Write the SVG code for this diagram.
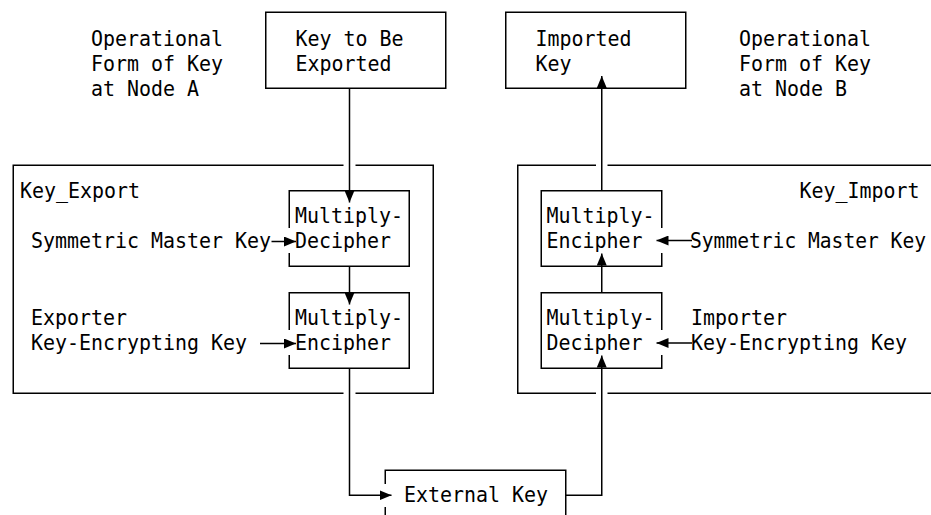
<svg xmlns="http://www.w3.org/2000/svg" width="931" height="515" viewBox="0 0 931 515">
<style>
  text { font-family: "DejaVu Sans Mono", "Liberation Mono", monospace; font-size: 22px; fill: #000; }
  .edge { fill: none; stroke: #000; stroke-width: 1.5; }
  .conn { fill: none; stroke: #000; stroke-width: 1.5; }
</style>
<defs>
  <marker id="ah" markerUnits="userSpaceOnUse" markerWidth="12" markerHeight="10" refX="12" refY="5" orient="auto">
    <path d="M0,0 L12,5 L0,10 Z" fill="#000"/>
  </marker>
</defs>
<rect width="931" height="515" fill="#fff"/>

<g id="label-node-a">
  <text x="91" y="46" textLength="132" lengthAdjust="spacingAndGlyphs">Operational</text>
  <text x="91" y="71" textLength="132" lengthAdjust="spacingAndGlyphs">Form of Key</text>
  <text x="91" y="96" textLength="108" lengthAdjust="spacingAndGlyphs">at Node A</text>
</g>

<g id="key-to-be-exported">
  <rect class="edge" x="265.75" y="12.25" width="180" height="76"/>
  <text x="295.5" y="46" textLength="108" lengthAdjust="spacingAndGlyphs">Key to Be</text>
  <text x="295.5" y="71" textLength="96" lengthAdjust="spacingAndGlyphs">Exported</text>
</g>

<g id="imported-key">
  <rect class="edge" x="505.75" y="12.25" width="180" height="76"/>
  <text x="535.5" y="46" textLength="96" lengthAdjust="spacingAndGlyphs">Imported</text>
  <text x="535.5" y="71" textLength="36" lengthAdjust="spacingAndGlyphs">Key</text>
</g>

<g id="label-node-b">
  <text x="739" y="46" textLength="132" lengthAdjust="spacingAndGlyphs">Operational</text>
  <text x="739" y="71" textLength="132" lengthAdjust="spacingAndGlyphs">Form of Key</text>
  <text x="739" y="96" textLength="108" lengthAdjust="spacingAndGlyphs">at Node B</text>
</g>

<g id="key-export">
  <path class="edge" d="M343.5,165.25 H13.25 V393.25 H343.5 M355.5,393.25 H433.25 V165.25 H355.5"/>
  <text x="20" y="198" textLength="120" lengthAdjust="spacingAndGlyphs">Key_Export</text>
  <text x="31" y="248" textLength="240" lengthAdjust="spacingAndGlyphs">Symmetric Master Key</text>
  <text x="31" y="325" textLength="96" lengthAdjust="spacingAndGlyphs">Exporter</text>
  <text x="31" y="350" textLength="216" lengthAdjust="spacingAndGlyphs">Key-Encrypting Key</text>
</g>

<g id="multiply-decipher-a">
  <path class="edge" d="M289.25,228 V190.75 H409.25 V266.25 H289.25 V253"/>
  <text x="295" y="223" textLength="108" lengthAdjust="spacingAndGlyphs">Multiply-</text>
  <text x="295" y="248" textLength="96" lengthAdjust="spacingAndGlyphs">Decipher</text>
</g>

<g id="multiply-encipher-a">
  <path class="edge" d="M289.25,330 V292.75 H409.25 V368.25 H289.25 V355"/>
  <text x="295" y="325" textLength="108" lengthAdjust="spacingAndGlyphs">Multiply-</text>
  <text x="295" y="350" textLength="96" lengthAdjust="spacingAndGlyphs">Encipher</text>
</g>

<g id="key-import">
  <path class="edge" d="M596,165.25 H517.75 V393.25 H596 M607.5,165.25 H945 M607.5,393.25 H945"/>
  <text x="799.5" y="198" textLength="120" lengthAdjust="spacingAndGlyphs">Key_Import</text>
  <text x="690" y="248" textLength="236" lengthAdjust="spacingAndGlyphs">Symmetric Master Key</text>
  <text x="691" y="325" textLength="96" lengthAdjust="spacingAndGlyphs">Importer</text>
  <text x="691" y="350" textLength="216" lengthAdjust="spacingAndGlyphs">Key-Encrypting Key</text>
</g>

<g id="multiply-encipher-b">
  <path class="edge" d="M661.75,228 V190.75 H541.25 V266.25 H661.75 V253"/>
  <text x="546.5" y="223" textLength="108" lengthAdjust="spacingAndGlyphs">Multiply-</text>
  <text x="546.5" y="248" textLength="96" lengthAdjust="spacingAndGlyphs">Encipher</text>
</g>

<g id="multiply-decipher-b">
  <path class="edge" d="M661.75,330 V292.75 H541.25 V368.25 H661.75 V355"/>
  <text x="546.5" y="325" textLength="108" lengthAdjust="spacingAndGlyphs">Multiply-</text>
  <text x="546.5" y="350" textLength="96" lengthAdjust="spacingAndGlyphs">Decipher</text>
</g>

<g id="external-key">
  <path class="edge" d="M385.25,520 V507 M385.25,484 V470.25 H565.75 V520"/>
  <text x="404" y="502" textLength="144" lengthAdjust="spacingAndGlyphs">External Key</text>
</g>

<g id="connectors">
  <path class="conn" d="M349.5,88.25 V202.5" marker-end="url(#ah)"/>
  <path class="conn" d="M349.5,266.25 V304.5" marker-end="url(#ah)"/>
  <path class="conn" d="M271.5,241.5 H296" marker-end="url(#ah)"/>
  <path class="conn" d="M260,343.5 H296" marker-end="url(#ah)"/>
  <path class="conn" d="M349.5,368.25 V495.25 H391.5" marker-end="url(#ah)"/>
  <path class="conn" d="M565.75,495.25 H601.75 V355.5" marker-end="url(#ah)"/>
  <path class="conn" d="M601.75,292.75 V253.5" marker-end="url(#ah)"/>
  <path class="conn" d="M601.75,190.75 V76" marker-end="url(#ah)"/>
  <path class="conn" d="M692,240.5 H656.5" marker-end="url(#ah)"/>
  <path class="conn" d="M692,343 H656.5" marker-end="url(#ah)"/>
</g>
</svg>
